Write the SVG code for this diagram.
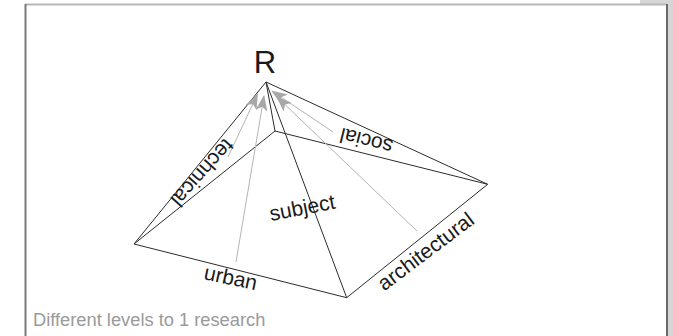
<svg xmlns="http://www.w3.org/2000/svg" width="673" height="336" viewBox="0 0 673 336">
  <style>
    .edge { stroke: #2b2b2b; stroke-width: 1; fill: none; }
    .ray { stroke: #b4b4b4; stroke-width: 1; fill: none; }
    .lbl { font-family: "Liberation Sans", Arial, sans-serif; font-size: 21px; fill: #1a1a1a; }
    .apex { font-family: "Liberation Sans", Arial, sans-serif; font-size: 31px; fill: #1a1a1a; }
    .caption { font-family: "Liberation Sans", Arial, sans-serif; font-size: 18.3px; fill: #9a9a9a; }
  </style>
  <defs>
    <marker id="head" viewBox="0 0 16 12" refX="15" refY="6" markerWidth="16" markerHeight="12" markerUnits="userSpaceOnUse" orient="auto">
      <path d="M0,0 L16,6 L0,12 L4,6 Z" fill="#a8a8a8"/>
    </marker>
  </defs>

  <!-- panel frame -->
  <rect x="0" y="0" width="673" height="336" fill="#ffffff"/>
  <rect x="640" y="0" width="33" height="4" fill="#d6d6d6"/>
  <rect x="668" y="0" width="5" height="336" fill="#d6d6d6"/>
  <line x1="25" y1="4.5" x2="667" y2="4.5" stroke="#b8b8b8" stroke-width="2"/>
  <line x1="25.5" y1="4" x2="25.5" y2="336" stroke="#7a7a7a" stroke-width="2"/>
  <line x1="667" y1="4" x2="667" y2="336" stroke="#6a6a6a" stroke-width="2"/>

  <!-- pyramid edges -->
  <g id="pyramid">
    <path class="edge" d="M134,244 L346.7,297.7 L487.7,184.3 L275,131 Z"/>
    <path class="edge" d="M266,82 L134,244 M266,82 L346.7,297.7 M266,82 L487.7,184.3 M266,82 L275,131"/>
  </g>

  <!-- influence arrows towards the apex -->
  <g id="connectors">
    <line class="ray" x1="228" y1="157" x2="257.5" y2="94" marker-end="url(#head)"/>
    <line class="ray" x1="236" y1="262" x2="264" y2="96" marker-end="url(#head)"/>
    <line class="ray" x1="333" y1="132" x2="272" y2="91" marker-end="url(#head)"/>
    <line class="ray" x1="417" y1="231" x2="277" y2="97" marker-end="url(#head)"/>
  </g>

  <g id="node-R">
    <text class="apex" x="265" y="73" text-anchor="middle">R</text>
  </g>
  <g id="node-technical">
    <text class="lbl" text-anchor="middle" transform="translate(197,168) rotate(132)">technical</text>
  </g>
  <g id="node-social">
    <text class="lbl" text-anchor="middle" transform="translate(368,134) rotate(194)">social</text>
  </g>
  <g id="node-subject">
    <text class="lbl" transform="translate(271,221) rotate(-11)">subject</text>
  </g>
  <g id="node-urban">
    <text class="lbl" transform="translate(203,279) rotate(12)">urban</text>
  </g>
  <g id="node-architectural">
    <text class="lbl" text-anchor="middle" transform="translate(430,257) rotate(-37)">architectural</text>
  </g>

  <text class="caption" x="33" y="326">Different levels to 1 research</text>
</svg>
